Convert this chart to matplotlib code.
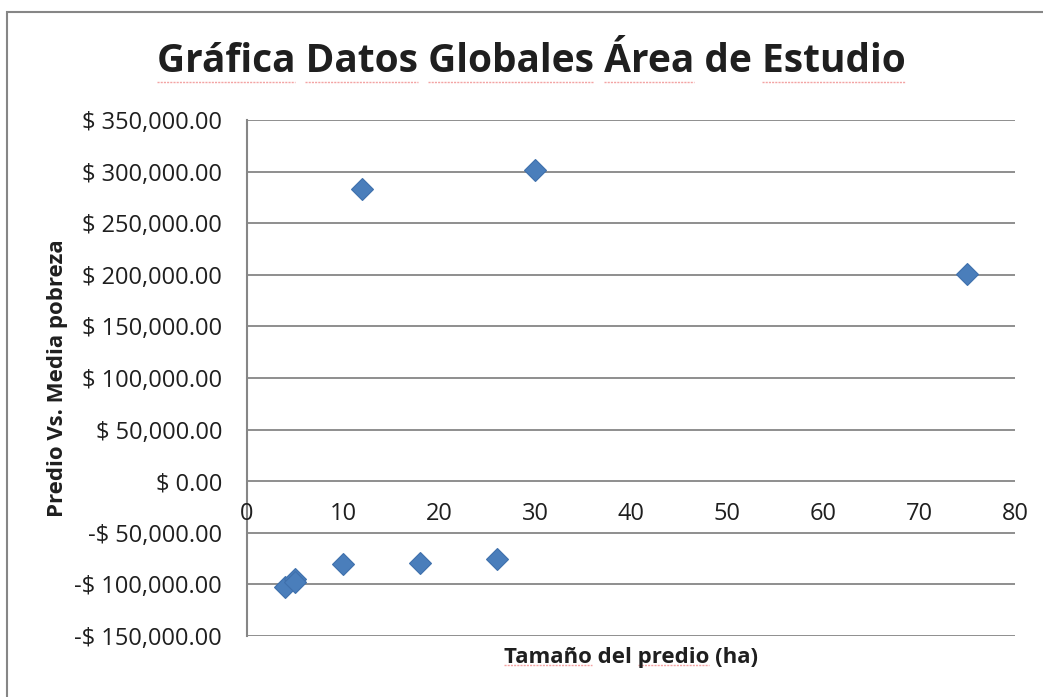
import matplotlib.pyplot as plt
from matplotlib.patches import Rectangle
from matplotlib.lines import Line2D
from matplotlib.ticker import FuncFormatter

# hectares vs. difference from mean poverty line
tamano_ha = [4, 5, 5, 10, 12, 18, 26, 30, 75]
predio_vs_media = [-102700, -95000, -97500, -80400, 282900, -79500, -75600, 301400, 200600]

y_ticks = [-150000, -100000, -50000, 0, 50000, 100000, 150000, 200000, 250000, 300000, 350000]
x_ticks = [0, 10, 20, 30, 40, 50, 60, 70, 80]

plt.rcParams['font.family'] = ['Open Sans', 'DejaVu Sans']
grey = '#868686'
ink = '#1f1f1f'


def money(v, pos=None):
    if v < 0:
        return '-$ {:,.2f}'.format(-v)
    return '$ {:,.2f}'.format(v)


def spell_marks(fig, txt, words, drop):
    # faint red underline under the words the spell checker flagged
    r = fig.canvas.get_renderer()
    bb = txt.get_window_extent(r)
    full = txt.get_text()
    props = dict(fontsize=txt.get_fontsize(), fontweight=txt.get_fontweight(),
                 family=txt.get_fontfamily())
    for w in words:
        i = full.index(w)
        tmp = fig.text(0, 0, full[:i] if i else '', **props)
        x0 = tmp.get_window_extent(r).width if i else 0
        tmp.remove()
        tmp = fig.text(0, 0, full[:i + len(w)], **props)
        x1 = tmp.get_window_extent(r).width
        tmp.remove()
        y = bb.y0 - drop
        fig.add_artist(Line2D([bb.x0 + x0, bb.x0 + x1], [y, y], transform=None,
                              color='#f3a3a3', linewidth=1.0, linestyle=(0, (1.5, 0.8))))


fig = plt.figure(figsize=(10.43, 6.97), dpi=100)
fig.patches.append(Rectangle((7 / 1043, -0.1), 1.2, 1 - 12 / 697 + 0.1,
                             transform=fig.transFigure, fill=False,
                             edgecolor=grey, linewidth=1.5))

ax = fig.add_axes([247 / 1043, 1 - 636 / 697, 768 / 1043, 516 / 697])
ax.set_xlim(0, 80)
ax.set_ylim(-150000, 350000)
ax.set_yticks(y_ticks)
ax.set_xticks(x_ticks)
ax.yaxis.set_major_formatter(FuncFormatter(money))
ax.grid(axis='y', color=grey, linewidth=1.3)
ax.set_axisbelow(True)
for s in ['top', 'right', 'bottom']:
    ax.spines[s].set_visible(False)
ax.spines['left'].set_color(grey)
ax.spines['left'].set_linewidth(1.5)
ax.tick_params(axis='y', length=0, pad=18, labelsize=17, labelcolor=ink)
ax.tick_params(axis='x', length=0)

# x tick labels hang just below the zero line
ax.set_xticklabels([])
for xv in x_ticks:
    ax.text(xv, -32000, str(xv), ha='center', va='center', fontsize=17, color=ink)

ax.plot(tamano_ha, predio_vs_media, linestyle='none', marker='D', markersize=11.5,
        markerfacecolor='#4a7ebb', markeredgecolor='#3f70ac', markeredgewidth=0.8)

title = fig.text(531 / 1043, 1 - 62 / 697, 'Gráfica Datos Globales Área de Estudio',
                 ha='center', va='center', fontsize=28, fontweight='bold', color=ink)
xlab = fig.text(631 / 1043, 1 - 658 / 697, 'Tamaño del predio (ha)',
                ha='center', va='center', fontsize=16, fontweight='bold', color=ink)
fig.text(57 / 1043, 1 - 378 / 697, 'Predio Vs. Media pobreza', rotation=90,
         ha='center', va='center', fontsize=16, fontweight='bold', color=ink)

spell_marks(fig, title, ['Gráfica', 'Datos', 'Globales', 'Área', 'Estudio'], 0)
spell_marks(fig, xlab, ['Tamaño', 'predio'], -4)

fig.savefig('out.png', dpi=100)
